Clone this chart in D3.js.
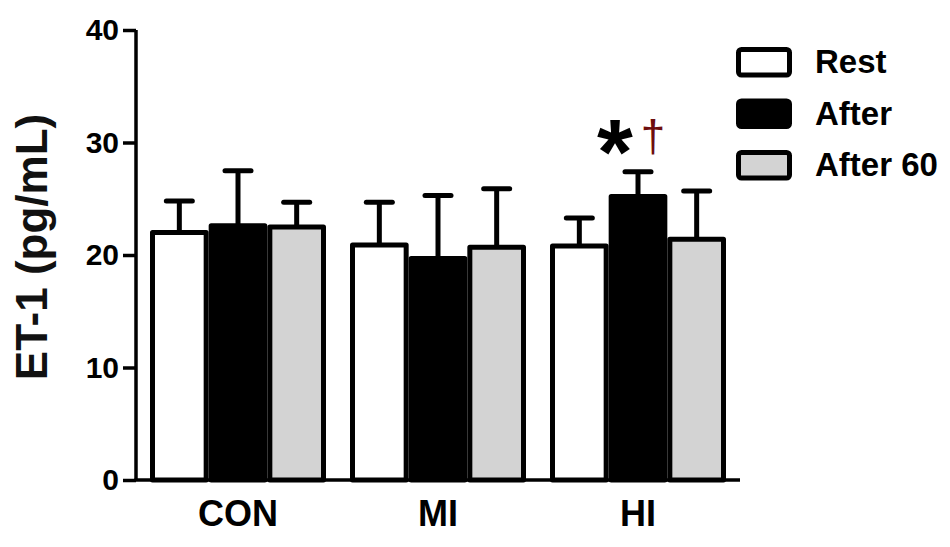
<!DOCTYPE html>
<html>
<head>
<meta charset="utf-8">
<script src="https://cdn.jsdelivr.net/npm/d3@7"></script>
<style>
  html, body { margin: 0; padding: 0; background: #fff; }
  svg { display: block; }
  text { font-family: "Liberation Sans", Arial, sans-serif; }
</style>
</head>
<body>
<svg id="chart" width="950" height="547"></svg>
<script>
// ---- data ----
const groups = ["CON", "MI", "HI"];
const seriesNames = ["Rest", "After", "After 60"];
const restMean    = [22.0, 20.9, 20.8];
const afterMean   = [22.6, 19.7, 25.2];
const after60Mean = [22.5, 20.7, 21.4];
const restUpper    = [24.8, 24.7, 23.3];
const afterUpper   = [27.5, 25.3, 27.4];
const after60Upper = [24.7, 25.9, 25.7];
const yTicks = [0, 10, 20, 30, 40];
const yTitle = "ET-1 (pg/mL)";

const fills = {"Rest": "#ffffff", "After": "#000000", "After 60": "#d3d3d3"};
const means = [restMean, afterMean, after60Mean];
const uppers = [restUpper, afterUpper, after60Upper];

const rows = [];
groups.forEach((g, gi) => {
  seriesNames.forEach((s, si) => {
    rows.push({group: g, series: s, mean: means[si][gi], upper: uppers[si][gi]});
  });
});

const svg = d3.select("#chart");
const sw = 5;

const y = d3.scaleLinear().domain([0, 40]).range([480, 30]);
const x0 = d3.scaleBand().domain(groups).range([136, 740]).paddingInner(0.12).paddingOuter(0.07);
const x1 = d3.scaleBand().domain(seriesNames).range([0, x0.bandwidth()]);

// bars
svg.append("g").selectAll("rect").data(rows).join("rect")
  .attr("x", d => x0(d.group) + x1(d.series) + sw / 2)
  .attr("width", x1.bandwidth() - sw)
  .attr("y", d => y(d.mean))
  .attr("height", d => y(0) - y(d.mean))
  .attr("fill", d => fills[d.series])
  .attr("stroke", "#000")
  .attr("stroke-width", sw)
  .attr("stroke-linejoin", "round");

// error bars
const eb = svg.append("g").attr("stroke", "#000").attr("stroke-width", sw).attr("stroke-linecap", "round");
rows.forEach(d => {
  const cx = x0(d.group) + x1(d.series) + x1.bandwidth() / 2;
  eb.append("line").attr("x1", cx).attr("x2", cx).attr("y1", y(d.mean)).attr("y2", y(d.upper)).attr("stroke-linecap", "butt");
  eb.append("line").attr("x1", cx - 13).attr("x2", cx + 13).attr("y1", y(d.upper)).attr("y2", y(d.upper));
});

// y axis
const yAxis = d3.axisLeft(y).tickValues(yTicks).tickSize(13).tickPadding(4).tickSizeOuter(0);
const ya = svg.append("g").attr("transform", "translate(136,0)").call(yAxis);
ya.select(".domain").attr("stroke-width", 3.5).attr("d", `M0,${y(40)}V${y(0)}`);
ya.selectAll(".tick line").attr("stroke-width", 3.5);
ya.selectAll(".tick text").attr("font-size", 30).attr("font-weight", "bold").attr("fill", "#000")
  .attr("font-family", "Liberation Sans, Arial, sans-serif");

// x axis
const xAxis = d3.axisBottom(x0).tickSize(0).tickPadding(20).tickSizeOuter(0);
const xa = svg.append("g").attr("transform", `translate(0,${y(0)})`).call(xAxis);
xa.select(".domain").attr("stroke-width", 3.5).attr("d", `M134.5,0H740`);
xa.selectAll(".tick text").attr("font-size", 36).attr("font-weight", "bold").attr("fill", "#000")
  .attr("font-family", "Liberation Sans, Arial, sans-serif");

// y title
svg.append("text")
  .attr("transform", "translate(47,247) rotate(-90)")
  .attr("text-anchor", "middle")
  .attr("font-size", 44).attr("font-weight", "bold").attr("fill", "#111")
  .text(yTitle);

// significance marks on HI After
const hiAfterX = x0("HI") + x1("After") + x1.bandwidth() / 2;
svg.append("text").attr("x", hiAfterX - 23).attr("y", 184).attr("text-anchor", "middle")
  .attr("font-size", 92).attr("font-weight", "bold").attr("fill", "#000").text("*");
svg.append("text").attr("x", hiAfterX + 15).attr("y", 151).attr("text-anchor", "middle")
  .attr("font-size", 44).attr("fill", "#6e0e0e").text("†");

// legend
const lg = svg.append("g");
seriesNames.forEach((s, i) => {
  const top = 47 + i * 51.5;
  lg.append("rect").attr("x", 738.5).attr("y", top + 2.5).attr("width", 51).attr("height", 25.5)
    .attr("rx", 3).attr("fill", fills[s]).attr("stroke", "#000").attr("stroke-width", sw);
  lg.append("text").attr("x", 815).attr("y", top + 26).attr("font-size", 33).attr("font-weight", "bold")
    .attr("fill", "#000").text(s);
});
</script>
</body>
</html>
